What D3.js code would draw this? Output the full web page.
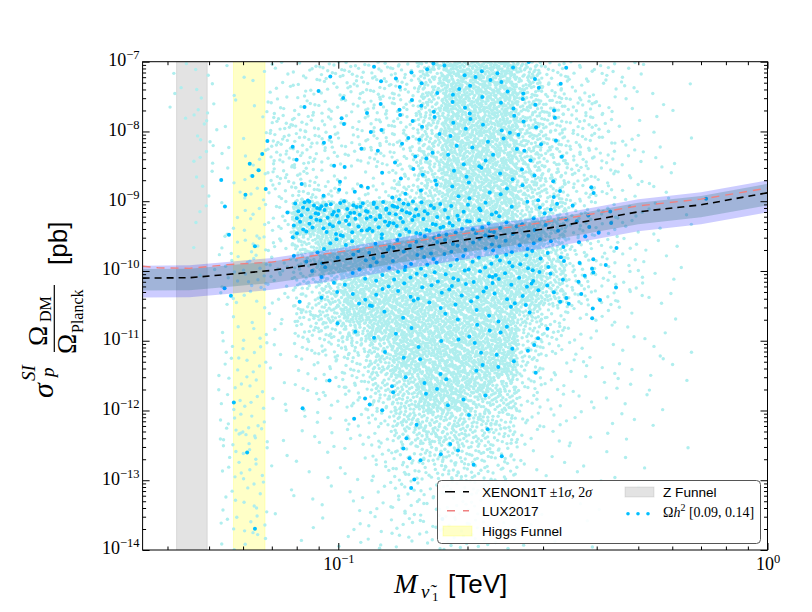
<!DOCTYPE html>
<html>
<head>
<meta charset="utf-8">
<script src="https://cdn.jsdelivr.net/npm/d3@7"></script>
<style>
  body { margin: 0; background: #fff; }
  svg { display: block; }
</style>
</head>
<body>
<div id="chart"></div>
<script>
// ---- data ----
const MASS_MIN = 0.035;
const MASS_MAX = 1.0;
const SIGMA_MIN = 1e-14;
const SIGMA_MAX = 1e-7;

// XENON1T expected sensitivity (median and bands), pb
const MASS_GRID = [0.035, 0.045, 0.055, 0.07, 0.1, 0.15, 0.2, 0.3, 0.5, 0.7, 1.0];
const XENON_MEDIAN = [7.9e-11, 8.0e-11, 8.9e-11, 1.02e-10, 1.40e-10, 2.15e-10, 2.84e-10, 3.98e-10, 7.05e-10, 8.87e-10, 1.32e-9];
const XENON_1SIG_UP = [1.07e-10, 1.08e-10, 1.20e-10, 1.37e-10, 1.88e-10, 2.89e-10, 3.82e-10, 5.36e-10, 9.49e-10, 1.19e-9, 1.78e-9];
const XENON_1SIG_DOWN = [5.24e-11, 5.30e-11, 5.89e-11, 6.75e-11, 9.27e-11, 1.42e-10, 1.88e-10, 2.64e-10, 4.67e-10, 5.87e-10, 8.74e-10];
const XENON_2SIG_UP = [1.19e-10, 1.21e-10, 1.34e-10, 1.54e-10, 2.11e-10, 3.25e-10, 4.29e-10, 6.01e-10, 1.07e-9, 1.34e-9, 1.99e-9];
const XENON_2SIG_DOWN = [4.16e-11, 4.21e-11, 4.68e-11, 5.37e-11, 7.36e-11, 1.13e-10, 1.49e-10, 2.09e-10, 3.71e-10, 4.67e-10, 6.94e-10];

// LUX2017 limit
const LUX_MASS = [0.035, 0.038, 0.045, 0.055, 0.07, 0.1, 0.15, 0.2, 0.3, 0.5, 0.7, 1.0];
const LUX_LIMIT = [1.17e-10, 1.11e-10, 1.09e-10, 1.23e-10, 1.34e-10, 1.88e-10, 2.65e-10, 3.49e-10, 4.95e-10, 8.59e-10, 1.07e-9, 1.54e-9];

// funnel regions, TeV
const Z_FUNNEL = [0.042, 0.0495];
const HIGGS_FUNNEL = [0.057, 0.0675];

// tick labels (powers of ten)
const X_MAJOR = [0.1, 1];
const Y_MAJOR = [1e-14, 1e-13, 1e-12, 1e-11, 1e-10, 1e-9, 1e-8, 1e-7];

// scan-point density: 28 rows (quarter decades, 1e-7 down to 1e-14)
// x 25 columns (equal log steps from 0.035 to 1 TeV). digit = density level.
const LIGHT_LEVEL_COUNT = [0, 1, 2, 4, 7, 12, 20, 32, 58, 80];
const LIGHT_DENSITY = [
  "0221234555578887544310000",
  "0221134455578887543311000",
  "0131244445578887654211000",
  "0131155445578887654210000",
  "0031255545578887654321000",
  "0031355445578887654321000",
  "0022355323578887654321000",
  "0021346544678887654321000",
  "0022348888888887754321000",
  "0012348888888888754321000",
  "0013447888888888754321000",
  "0013446888888888754321000",
  "0013446788888888754321000",
  "0003335788888888754321000",
  "0001226788888887533201000",
  "0002325678888886532220000",
  "0003324567888886431121000",
  "0003313457888885332221000",
  "0003313356788875322211000",
  "0003322346788774322120000",
  "0003312235777764321210000",
  "0004412234677663221100000",
  "0003311224566652211101000",
  "0003311223556552121010000",
  "0002311123445542211100000",
  "0002311123444442111000000",
  "0003301123344432110000000",
  "0002301123334432110000000"
];

// Omega h^2 in [0.09, 0.14] points, same grid
const DARK_LEVEL_COUNT = [0, 1, 2, 3, 5, 8, 12, 18, 25, 35];
const DARK_DENSITY = [
  "0000000101222222100000000",
  "0000000101122222100000000",
  "0000001021222222100000000",
  "0000000111222222100000000",
  "0000101211222222100000000",
  "0000201101222222100000000",
  "0001200111222222100000000",
  "0000202222222222211000100",
  "0001016666654433321000000",
  "0001005555555543322000000",
  "0000102334444444321000000",
  "0000002334444444322000000",
  "0001001233444444322000000",
  "0001001233333333321000000",
  "0000000102112221011000000",
  "0000000011201321100000000",
  "0000000001120222000000000",
  "0000000000020221000000000",
  "0000000101221000000000000",
  "0001001012012100000000000",
  "0000000010100100000000000",
  "0000000000101100000000000",
  "0000100000221010000000000",
  "0000000000100100000000000",
  "0000000000100000000000000",
  "0000000000000000000000000",
  "0000100000010000000000000",
  "0000000000000000000000000"
];

const SERIF = "'Liberation Serif', 'DejaVu Serif', serif";
const SANS = "'Liberation Sans', Arial, sans-serif";

// Halton sequence: spreads a cell's points evenly, deterministic (no randomness)
function halton(i, b) {
  let f = 1, r = 0;
  while (i > 0) {
    f /= b;
    r += f * (i % b);
    i = Math.floor(i / b);
  }
  return r;
}

function densityToPoints(map, counts, seed) {
  const pts = [];
  const lx0 = Math.log10(MASS_MIN);
  const lxStep = (Math.log10(MASS_MAX) - lx0) / map[0].length;
  const lyStep = (Math.log10(SIGMA_MAX) - Math.log10(SIGMA_MIN)) / map.length;
  let k = seed;
  map.forEach((row, j) => {
    row.split("").forEach((ch, i) => {
      const n = counts[+ch];
      for (let q = 0; q < n; q++) {
        k++;
        pts.push({
          mass: Math.pow(10, lx0 + (i + halton(k, 2)) * lxStep),
          sigma: Math.pow(10, Math.log10(SIGMA_MAX) - (j + halton(k, 3)) * lyStep)
        });
      }
    });
  });
  return pts;
}

class SneutrinoScatter {
  constructor(_config) {
    this.config = {
      parentElement: _config.parentElement,
      containerWidth: 812,
      containerHeight: 612,
      margin: { top: 61.7, right: 44.5, bottom: 62, left: 142.6 }
    };
    this.initVis();
  }

  initVis() {
    let vis = this;
    vis.config.width = vis.config.containerWidth - vis.config.margin.left - vis.config.margin.right;
    vis.config.height = vis.config.containerHeight - vis.config.margin.top - vis.config.margin.bottom;

    vis.svg = d3.select(vis.config.parentElement)
      .append("svg")
      .attr("width", vis.config.containerWidth)
      .attr("height", vis.config.containerHeight);

    vis.chart = vis.svg.append("g")
      .attr("transform", `translate(${vis.config.margin.left},${vis.config.margin.top})`);

    vis.xScale = d3.scaleLog().domain([MASS_MIN, MASS_MAX]).range([0, vis.config.width]);
    vis.yScale = d3.scaleLog().domain([SIGMA_MIN, SIGMA_MAX]).range([vis.config.height, 0]);

    vis.chart.append("clipPath").attr("id", "plot-clip")
      .append("rect")
      .attr("width", vis.config.width)
      .attr("height", vis.config.height);

    vis.plotArea = vis.chart.append("g").attr("clip-path", "url(#plot-clip)");

    vis.lightPoints = densityToPoints(LIGHT_DENSITY, LIGHT_LEVEL_COUNT, 1);
    vis.darkPoints = densityToPoints(DARK_DENSITY, DARK_LEVEL_COUNT, 40000);

    vis.renderVis();
  }

  renderVis() {
    let vis = this;
    const x = vis.xScale, y = vis.yScale;

    // funnel bands
    const funnels = [
      { range: Z_FUNNEL, color: "#808080" },
      { range: HIGGS_FUNNEL, color: "#ffff00" }
    ];
    vis.plotArea.selectAll(".funnel")
      .data(funnels)
      .join("rect")
      .attr("class", "funnel")
      .attr("x", d => x(d.range[0]))
      .attr("width", d => x(d.range[1]) - x(d.range[0]))
      .attr("y", -2)
      .attr("height", vis.config.height + 4)
      .attr("fill", d => d.color)
      .attr("fill-opacity", 0.22)
      .attr("stroke", d => d.color)
      .attr("stroke-opacity", 0.2)
      .attr("stroke-width", 1);

    // scan points
    vis.plotArea.append("g").selectAll("circle")
      .data(vis.lightPoints)
      .join("circle")
      .attr("cx", d => x(d.mass))
      .attr("cy", d => y(d.sigma))
      .attr("r", 1.7)
      .attr("fill", "#afeeee");

    vis.plotArea.append("g").selectAll("circle")
      .data(vis.darkPoints)
      .join("circle")
      .attr("cx", d => x(d.mass))
      .attr("cy", d => y(d.sigma))
      .attr("r", 2)
      .attr("fill", "#00bfff");

    // XENON1T bands
    const xenon = MASS_GRID.map((m, i) => ({
      mass: m,
      median: XENON_MEDIAN[i],
      up1: XENON_1SIG_UP[i], dn1: XENON_1SIG_DOWN[i],
      up2: XENON_2SIG_UP[i], dn2: XENON_2SIG_DOWN[i]
    }));
    const area = (lo, hi) => d3.area()
      .x(d => x(d.mass))
      .y0(d => y(d[lo]))
      .y1(d => y(d[hi]));

    vis.plotArea.append("path")
      .datum(xenon)
      .attr("d", area("dn2", "up2"))
      .attr("fill", "#0000ff")
      .attr("fill-opacity", 0.2);

    vis.plotArea.append("path")
      .datum(xenon)
      .attr("d", area("dn1", "up1"))
      .attr("fill", "#407f80")
      .attr("fill-opacity", 0.3);

    vis.plotArea.append("path")
      .datum(LUX_MASS.map((m, i) => ({ mass: m, v: LUX_LIMIT[i] })))
      .attr("d", d3.line().x(d => x(d.mass)).y(d => y(d.v)))
      .attr("fill", "none")
      .attr("stroke", "#f08080")
      .attr("stroke-width", 1.4)
      .attr("stroke-dasharray", "8,6");

    vis.plotArea.append("path")
      .datum(xenon)
      .attr("d", d3.line().x(d => x(d.mass)).y(d => y(d.median)))
      .attr("fill", "none")
      .attr("stroke", "#000")
      .attr("stroke-width", 1.6)
      .attr("stroke-dasharray", "7,5");

    vis.renderAxes();
    vis.renderLabels();
    vis.renderLegend();
  }

  renderAxes() {
    let vis = this;
    const w = vis.config.width, h = vis.config.height;
    const xMinor = vis.xScale.ticks().filter(t => !X_MAJOR.some(m => Math.abs(m - t) < 1e-9));
    const yMinor = vis.yScale.ticks().filter(t => !Y_MAJOR.some(m => Math.abs(m / t - 1) < 1e-6));

    const axes = [
      { gen: d3.axisBottom, scale: vis.xScale, major: X_MAJOR, minor: xMinor, tr: `translate(0,${h})`, labels: true },
      { gen: d3.axisTop, scale: vis.xScale, major: X_MAJOR, minor: xMinor, tr: "translate(0,0)", labels: false },
      { gen: d3.axisLeft, scale: vis.yScale, major: Y_MAJOR, minor: yMinor, tr: "translate(0,0)", labels: true },
      { gen: d3.axisRight, scale: vis.yScale, major: Y_MAJOR, minor: yMinor, tr: `translate(${w},0)`, labels: false }
    ];

    axes.forEach(a => {
      const gMinor = vis.chart.append("g").attr("transform", a.tr)
        .call(a.gen(a.scale).tickValues(a.minor).tickSize(-3.5).tickSizeOuter(0).tickFormat(""));
      gMinor.select(".domain").remove();
      const gMajor = vis.chart.append("g").attr("transform", a.tr)
        .call(a.gen(a.scale).tickValues(a.major).tickSize(-7).tickSizeOuter(0).tickPadding(3)
          .tickFormat(d => a.labels ? "10" : ""));
      gMajor.select(".domain").remove();
      [gMinor, gMajor].forEach(g => g.selectAll(".tick line").attr("stroke", "#000").attr("stroke-width", 1));

      if (a.labels) {
        const isX = a.gen === d3.axisBottom;
        gMajor.selectAll(".tick text")
          .attr("font-family", SERIF)
          .attr("font-size", 18)
          .attr("fill", "#000")
          .attr("y", isX ? 20 : null)
          .attr("x", isX ? null : -3)
          .attr("dy", isX ? null : 3.8)
          .each(function (d) {
            const t = d3.select(this);
            const exp = Math.round(Math.log10(d));
            t.append("tspan")
              .attr("font-size", 12.5)
              .attr("dy", -7)
              .text(exp < 0 ? "\u2212" + (-exp) : String(exp));
          });
      }
    });

    vis.chart.append("rect")
      .attr("width", w)
      .attr("height", h)
      .attr("fill", "none")
      .attr("stroke", "#000")
      .attr("stroke-width", 1);
  }

  renderLabels() {
    let vis = this;
    const svg = vis.svg;

    // x label: M_{nu~_1} [TeV]
    svg.append("text").attr("x", 394).attr("y", 592.5)
      .attr("font-family", SERIF).attr("font-style", "italic").attr("font-size", 28).text("M");
    svg.append("text").attr("x", 421).attr("y", 598)
      .attr("font-family", SERIF).attr("font-style", "italic").attr("font-size", 19).text("\u03bd\u0303");
    svg.append("text").attr("x", 432).attr("y", 601)
      .attr("font-family", SERIF).attr("font-size", 13).text("1");
    svg.append("text").attr("x", 448).attr("y", 592.5)
      .attr("font-family", SANS).attr("font-size", 26).text("[TeV]");

    // y label, rotated pieces: sigma_p^SI  Omega_DM / Omega_Planck  [pb]
    const rot = (sx, sy, str, size, family, italic) => svg.append("text")
      .attr("transform", `translate(${sx},${sy}) rotate(-90)`)
      .attr("font-family", family)
      .attr("font-style", italic ? "italic" : "normal")
      .attr("font-size", size)
      .text(str);

    rot(53, 398, "\u03c3", 30, SERIF, true);
    rot(35, 381, "SI", 19, SERIF, true);
    rot(53.5, 377, "p", 19, SERIF, true);
    rot(47, 346, "\u03a9", 27, SERIF, false);
    rot(51, 322, "DM", 16, SERIF, false);
    rot(76, 354, "\u03a9", 27, SERIF, false);
    rot(83, 333, "Planck", 16, SERIF, false);
    rot(67, 265, "[pb]", 26, SANS, false);

    svg.append("line")
      .attr("x1", 54.3).attr("x2", 54.3)
      .attr("y1", 285).attr("y2", 352)
      .attr("stroke", "#000").attr("stroke-width", 1.2);
  }

  renderLegend() {
    let vis = this;
    const lg = vis.svg.append("g");

    lg.append("rect")
      .attr("x", 437.5).attr("y", 480.5)
      .attr("width", 323).attr("height", 63)
      .attr("rx", 4)
      .attr("fill", "#fff")
      .attr("fill-opacity", 0.92)
      .attr("stroke", "#555")
      .attr("stroke-width", 1);

    // line handles
    lg.append("line").attr("x1", 445).attr("x2", 469).attr("y1", 491.7).attr("y2", 491.7)
      .attr("stroke", "#000").attr("stroke-width", 1.6).attr("stroke-dasharray", "10,8");
    lg.append("line").attr("x1", 447).attr("x2", 469).attr("y1", 510.7).attr("y2", 510.7)
      .attr("stroke", "#f08080").attr("stroke-width", 1.4).attr("stroke-dasharray", "8,8");

    // patches
    lg.append("rect").attr("x", 443).attr("y", 526).attr("width", 29).attr("height", 10)
      .attr("fill", "#ffff00").attr("fill-opacity", 0.22)
      .attr("stroke", "#ffff00").attr("stroke-opacity", 0.2);
    lg.append("rect").attr("x", 625).attr("y", 487).attr("width", 29).attr("height", 10)
      .attr("fill", "#808080").attr("fill-opacity", 0.22)
      .attr("stroke", "#808080").attr("stroke-opacity", 0.2);

    // dot handle
    lg.selectAll(".leg-dot")
      .data([628, 638, 648])
      .join("circle")
      .attr("class", "leg-dot")
      .attr("cx", d => d).attr("cy", 513.7).attr("r", 1.8)
      .attr("fill", "#00bfff");

    const t1 = lg.append("text").attr("x", 482).attr("y", 496.5)
      .attr("font-family", SANS).attr("font-size", 13.6);
    t1.append("tspan").text("XENON1T ");
    t1.append("tspan").attr("font-family", SERIF).attr("font-size", 14).text("\u00b11");
    t1.append("tspan").attr("font-family", SERIF).attr("font-style", "italic").attr("font-size", 14).text("\u03c3");
    t1.append("tspan").attr("font-family", SERIF).attr("font-size", 14).text(", 2");
    t1.append("tspan").attr("font-family", SERIF).attr("font-style", "italic").attr("font-size", 14).text("\u03c3");

    lg.append("text").attr("x", 482).attr("y", 516)
      .attr("font-family", SANS).attr("font-size", 13.6).text("LUX2017");
    lg.append("text").attr("x", 482).attr("y", 535.5)
      .attr("font-family", SANS).attr("font-size", 13.6).text("Higgs Funnel");
    lg.append("text").attr("x", 663).attr("y", 496.5)
      .attr("font-family", SANS).attr("font-size", 13.6).text("Z Funnel");

    const t2 = lg.append("text").attr("x", 663).attr("y", 517)
      .attr("font-family", SERIF).attr("font-size", 14);
    t2.append("tspan").text("\u03a9");
    t2.append("tspan").attr("font-style", "italic").text("h");
    t2.append("tspan").attr("font-size", 10).attr("dy", -6).text("2");
    t2.append("tspan").attr("dy", 6).text(" [0.09, 0.14]");
  }
}

new SneutrinoScatter({ parentElement: "#chart" });
</script>
</body>
</html>
